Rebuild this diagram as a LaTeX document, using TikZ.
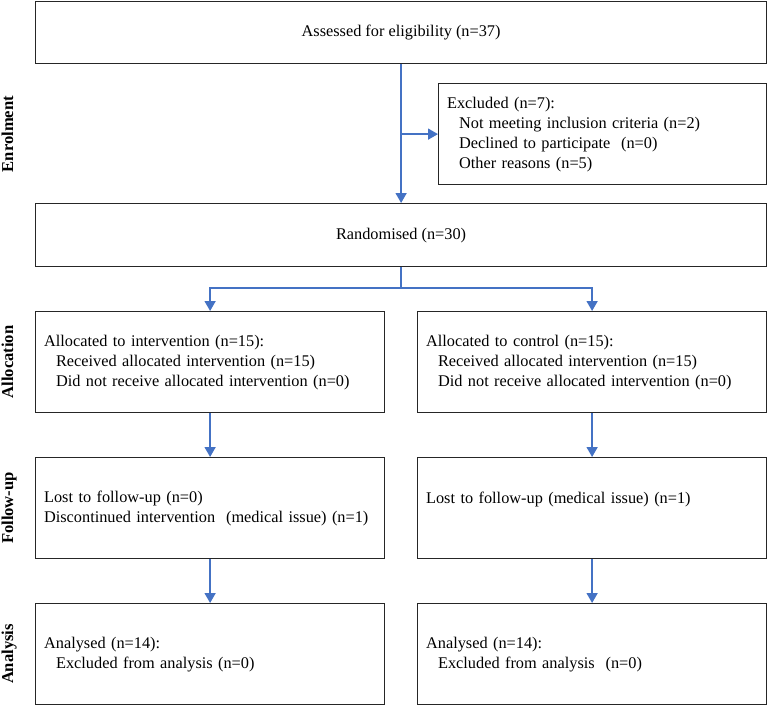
\documentclass[tikz,border=0pt]{standalone}
\usepackage{fontspec}
\setmainfont{Liberation Serif}
\usetikzlibrary{arrows.meta}
\definecolor{arrowblue}{HTML}{4472C4}
\begin{document}
\begin{tikzpicture}[x=1pt,y=-1pt,
  txt/.style={font=\fontsize{16.3}{20}\selectfont},
  box/.style={txt, draw=black!85, line width=1.2pt, rectangle, inner sep=0pt, anchor=north west},
  lbox/.style={box, inner xsep=8.5pt, align=left},
  lab/.style={rotate=90, anchor=base, inner sep=0pt, font=\bfseries\fontsize{16.6}{20}\selectfont},
  line/.style={draw=arrowblue, line width=1.6pt},
  conn/.style={line, -{Triangle[width=11pt,length=10pt]}}]
\useasboundingbox (0,0) rectangle (767,705);

% boxes
\node[box, minimum width=731pt, minimum height=62pt] (assess) at (35,1) {Assessed for eligibility (n=37)};
\node[lbox, text width=311pt, minimum height=101pt] (excl) at (438,83)
  {Excluded (n=7):\\
   \hspace*{12pt}Not meeting inclusion criteria (n=2)\\
   \hspace*{12pt}Declined to participate \ (n=0)\\
   \hspace*{12pt}Other reasons (n=5)};
\node[box, minimum width=731pt, minimum height=63pt] (rand) at (35,203) {Randomised (n=30)};

\node[lbox, text width=332pt, minimum height=101pt] (alL) at (35,311)
  {Allocated to intervention (n=15):\\
   \hspace*{12pt}Received allocated intervention (n=15)\\
   \hspace*{12pt}Did not receive allocated intervention (n=0)};
\node[lbox, text width=332pt, minimum height=101pt] (alR) at (417,311)
  {Allocated to control (n=15):\\
   \hspace*{12pt}Received allocated intervention (n=15)\\
   \hspace*{12pt}Did not receive allocated intervention (n=0)};

\node[lbox, text width=332pt, minimum height=101pt] (fuL) at (35,457)
  {Lost to follow-up (n=0)\\
   Discontinued intervention \ (medical issue) (n=1)};
\node[lbox, text width=332pt, minimum height=101pt] (fuR) at (417,457)
  {Lost to follow-up (medical issue) (n=1)\\ \mbox{}};

\node[lbox, text width=332pt, minimum height=101pt] (anL) at (35,603)
  {Analysed (n=14):\\
   \hspace*{12pt}Excluded from analysis (n=0)};
\node[lbox, text width=332pt, minimum height=101pt] (anR) at (417,603)
  {Analysed (n=14):\\
   \hspace*{12pt}Excluded from analysis \ (n=0)};

% stage labels
\node[lab] (lenr) at (13,134) {Enrolment};
\node[lab] (lall) at (13,362) {Allocation};
\node[lab] (lfol) at (13,508) {Follow-up};
\node[lab] (lana) at (13,654) {Analysis};

% connectors
\draw[conn] (assess.south) -- (rand.north);
\coordinate (j1) at (assess.south |- excl.west);
\draw[conn] (j1) -- (excl.west);
\path (rand.south) ++(0,21) coordinate (split);
\draw[line] (rand.south) -- (split);
\draw[conn] (split) -| (alL.north);
\draw[conn] (split) -| (alR.north);
\draw[conn] (alL.south) -- (fuL.north);
\draw[conn] (alR.south) -- (fuR.north);
\draw[conn] (fuL.south) -- (anL.north);
\draw[conn] (fuR.south) -- (anR.north);
\end{tikzpicture}
\end{document}
